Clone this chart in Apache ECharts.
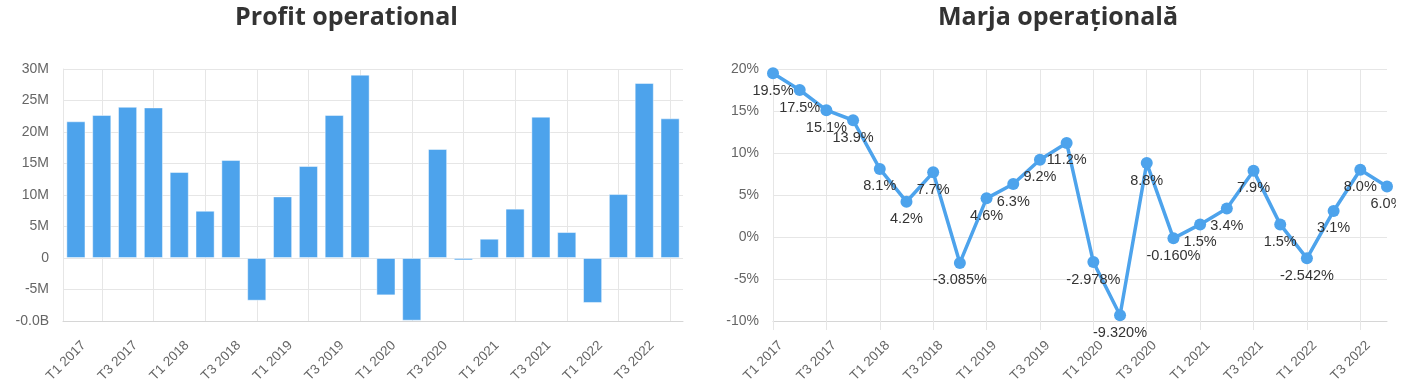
<!DOCTYPE html>
<html>
<head>
<meta charset="utf-8">
<script src="https://cdn.jsdelivr.net/npm/echarts@6/dist/echarts.min.js"></script>
<style>
html,body{margin:0;padding:0;background:#fff;}
#chart{width:1428px;height:387px;}
</style>
</head>
<body>
<div id="chart"></div>
<script>
const categories = ['T1 2017','T2 2017','T3 2017','T4 2017','T1 2018','T2 2018','T3 2018','T4 2018',
  'T1 2019','T2 2019','T3 2019','T4 2019','T1 2020','T2 2020','T3 2020','T4 2020',
  'T1 2021','T2 2021','T3 2021','T4 2021','T1 2022','T2 2022','T3 2022','T4 2022'];
const profitValues = [21700000, 22700000, 24000000, 23900000, 13650000, 7500000, 15550000, -6780000,
  9780000, 14600000, 22700000, 29100000, -5930000, -9950000, 17300000, -380000,
  3060000, 7830000, 22430000, 4120000, -7140000, 10150000, 27780000, 22170000];
const marginValues = [19.5, 17.5, 15.1, 13.9, 8.1, 4.2, 7.7, -3.085,
  4.6, 6.3, 9.2, 11.2, -2.978, -9.320, 8.8, -0.160,
  1.5, 3.4, 7.9, 1.5, -2.542, 3.1, 8.0, 6.0];
const profitTickLabels = ['-0.0B','-5M','0','5M','10M','15M','20M','25M','30M'];
const marginTickLabels = ['-10%','-5%','0%','5%','10%','15%','20%'];
const titles = ['Profit operational', 'Marja operațională'];

const BLUE = '#4da3ec';
const GRID_COLOR = '#e6e6e6';
const AXIS_COLOR = '#d6d6d6';
const LABEL_COLOR = '#666';
const FONT = 'Arial';

const xLabel = {
  rotate: 45, interval: 1, color: LABEL_COLOR, fontSize: 13.5, fontFamily: FONT,
  margin: 30, padding: [0, -11, 0, 0]
};

const chart = echarts.init(document.getElementById('chart'), null, {renderer: 'canvas'});
chart.setOption({
  animation: false,
  graphic: [
    {type: 'text', x: 346.5, y: 5, style: {text: titles[0], fill: '#333', font: 'bold 25px "Open Sans"', textAlign: 'center', textVerticalAlign: 'top'}},
    {type: 'text', x: 1058, y: 5, style: {text: titles[1], fill: '#333', font: 'bold 25px "Open Sans"', textAlign: 'center', textVerticalAlign: 'top'}},
    {type: 'rect', z: 100, shape: {x: 1396, y: 60, width: 32, height: 280}, style: {fill: '#fff'}}
  ],
  grid: [
    {left: 63, top: 69, width: 620, height: 252},
    {left: 773, top: 69, width: 614, height: 252}
  ],
  xAxis: [
    {
      type: 'category', gridIndex: 0, data: categories, boundaryGap: true,
      axisLine: {onZero: false, lineStyle: {color: AXIS_COLOR}},
      axisTick: {alignWithLabel: true, interval: (i) => i % 2 === 1, length: 9, lineStyle: {color: GRID_COLOR}},
      splitLine: {show: true, alignWithLabel: true, interval: (i) => i % 2 === 1, lineStyle: {color: GRID_COLOR}},
      axisLabel: xLabel
    },
    {
      type: 'category', gridIndex: 1, data: categories, boundaryGap: false,
      axisLine: {onZero: false, lineStyle: {color: AXIS_COLOR}},
      axisTick: {interval: 1, length: 9, lineStyle: {color: GRID_COLOR}},
      splitLine: {show: true, interval: 1, lineStyle: {color: GRID_COLOR}},
      axisLabel: xLabel
    }
  ],
  yAxis: [
    {
      type: 'value', gridIndex: 0, min: -10000000, max: 30000000, interval: 5000000,
      axisLine: {show: true, lineStyle: {color: GRID_COLOR}},
      splitLine: {lineStyle: {color: GRID_COLOR}},
      axisLabel: {color: LABEL_COLOR, fontSize: 14, fontFamily: FONT, margin: 14,
        formatter: (v) => profitTickLabels[Math.round((v + 10000000) / 5000000)]}
    },
    {
      type: 'value', gridIndex: 1, min: -10, max: 20, interval: 5,
      axisLine: {show: false},
      splitLine: {lineStyle: {color: GRID_COLOR}},
      axisLabel: {color: LABEL_COLOR, fontSize: 14, fontFamily: FONT, margin: 14,
        formatter: (v) => marginTickLabels[Math.round((v + 10) / 5)]}
    }
  ],
  series: [
    {
      type: 'bar', xAxisIndex: 0, yAxisIndex: 0, data: profitValues,
      barCategoryGap: '26%',
      itemStyle: {color: BLUE, borderColor: 'rgba(255,255,255,0.45)', borderWidth: 1}
    },
    {
      type: 'line', xAxisIndex: 1, yAxisIndex: 1, data: marginValues,
      symbol: 'circle', symbolSize: 12,
      lineStyle: {color: BLUE, width: 3.5},
      itemStyle: {color: BLUE},
      label: {show: true, position: 'bottom', distance: 4, color: '#333', fontSize: 14.5, fontFamily: FONT,
        formatter: (p) => (p.value < 0 ? p.value.toFixed(3) : p.value.toFixed(1)) + '%'}
    }
  ]
});
</script>
</body>
</html>
